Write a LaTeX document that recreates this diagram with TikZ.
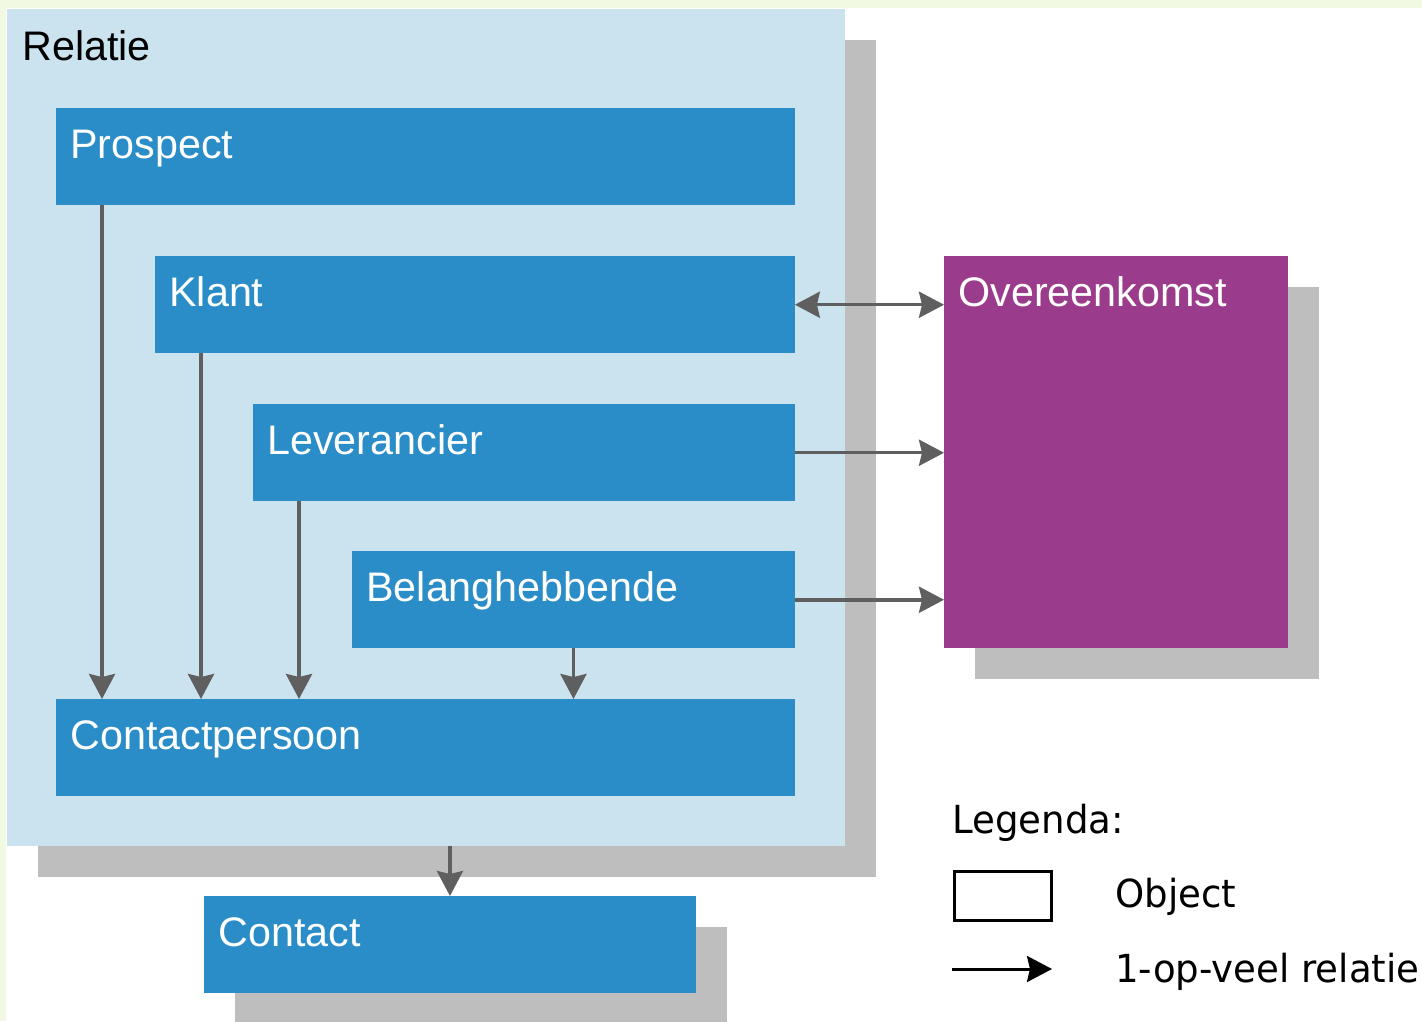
\documentclass[tikz,border=0pt]{standalone}
\usepackage{fontspec}
\setmainfont{Liberation Sans}
\newfontfamily\legfont[FakeStretch=0.96]{DejaVu Sans}
\usetikzlibrary{arrows.meta,shadows}
\definecolor{bgreen}{HTML}{F1F9E2}
\definecolor{relblue}{HTML}{CBE2EF}
\definecolor{objblue}{HTML}{2A8DC8}
\definecolor{objpurple}{HTML}{9B3B8B}
\definecolor{shade}{HTML}{BEBEBE}
\definecolor{relgray}{HTML}{5F5F5F}
\tikzstyle{objbox}=[rectangle,fill=objblue,inner sep=0pt,outer sep=0pt,anchor=north west,minimum height=1.95cm]
\tikzstyle{shadowed}=[drop shadow={shadow xshift=0.62cm,shadow yshift=-0.62cm,fill=shade,opacity=1}]
\tikzstyle{objname}=[anchor=base west,inner sep=0pt,text=white,font=\fontsize{23.5}{23.5}\selectfont]
\tikzstyle{rel}=[draw=relgray,line width=0.07cm,->]
\tikzstyle{legtext}=[anchor=base west,inner sep=0pt,font=\legfont\fontsize{22}{22}\selectfont]

\begin{document}
\begin{tikzpicture}[x=0.02cm,y=-0.02cm,>={Stealth[length=0.5cm,width=0.52cm,inset=0.06cm]}]
  % background
  \fill[bgreen] (0,0) rectangle (1422,1021);
  \fill[white] (6,8) rectangle (1422,1021);
  \useasboundingbox (0,0) rectangle (1422,1021);

  % objects
  \node[objbox,shadowed,fill=relblue,minimum width=16.76cm,minimum height=16.74cm] (relatie) at (7,9) {};
  \node[objbox,minimum width=14.78cm] (prospect) at (56,108) {};
  \node[objbox,minimum width=12.8cm] (klant) at (155,256) {};
  \node[objbox,minimum width=10.84cm] (leverancier) at (253,404) {};
  \node[objbox,minimum width=8.86cm] (belang) at (352,551) {};
  \node[objbox,minimum width=14.78cm] (contactpersoon) at (56,699) {};
  \node[objbox,shadowed,minimum width=9.84cm] (contact) at (204,896) {};
  \node[objbox,shadowed,fill=objpurple,minimum width=6.88cm,minimum height=7.84cm] (overeenkomst) at (944,256) {};

  \path (relatie.north west) ++ (15,51) node[objname,text=black] (relatie-t) {Relatie}
    (prospect.north west) ++ (14,50) node[objname] (prospect-t) {Prospect}
    (klant.north west) ++ (14,50) node[objname] (klant-t) {Klant}
    (leverancier.north west) ++ (14,50) node[objname] (leverancier-t) {Leverancier}
    (belang.north west) ++ (14,50) node[objname] (belang-t) {Belanghebbende}
    (contactpersoon.north west) ++ (14,50) node[objname] (contactpersoon-t) {Contactpersoon}
    (contact.north west) ++ (14,50) node[objname] (contact-t) {Contact}
    (overeenkomst.north west) ++ (14,50) node[objname] (overeenkomst-t) {Overeenkomst};

  % relaties
  \draw[rel] (prospect.south west) ++ (46,0) coordinate (p1) -- (p1 |- contactpersoon.north);
  \draw[rel] (klant.south west) ++ (46,0) coordinate (k1) -- (k1 |- contactpersoon.north);
  \draw[rel] (leverancier.south west) ++ (46,0) coordinate (l1) -- (l1 |- contactpersoon.north);
  \draw[rel] (belang.south) -- (belang.south |- contactpersoon.north);
  \draw[rel] (contact.north |- relatie.south) -- (contact.north);
  \draw[rel,<->] (klant.east) -- (klant.east -| overeenkomst.west);
  \draw[rel] (leverancier.east) -- (leverancier.east -| overeenkomst.west);
  \draw[rel] (belang.east) -- (belang.east -| overeenkomst.west);

  % legenda
  \node[legtext] (legenda) at (952,833) {Legenda:};
  \node[objbox,fill=none,draw=black,line width=0.06cm,minimum width=1.96cm,minimum height=0.98cm] (legobj) at (954,871) {};
  \node[legtext] (legobj-t) at (1115,907) {Object};
  \coordinate (legrel) at (952,969);
  \draw[line width=0.06cm,->] (legrel) -- ++ (100,0) coordinate (legrel-e);
  \node[legtext] (legrel-t) at (1115,982) {1-op-veel relatie};
\end{tikzpicture}
\end{document}
